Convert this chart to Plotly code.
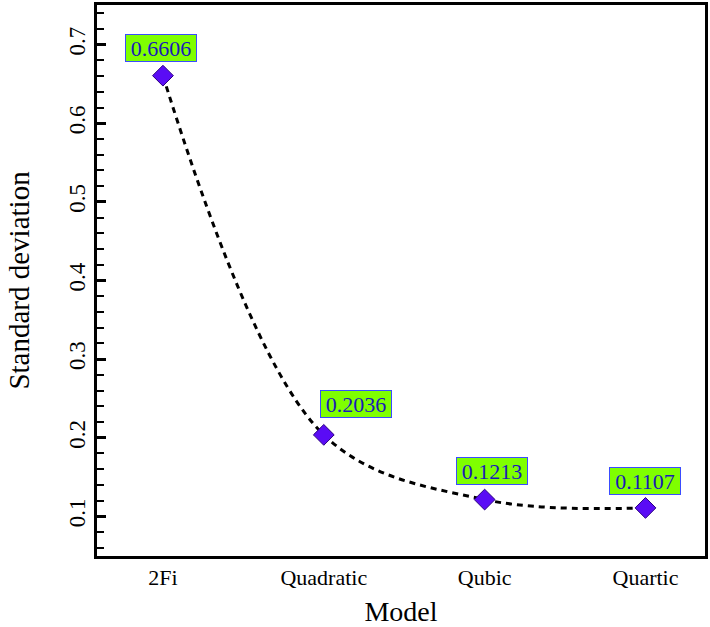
import plotly.graph_objects as go

models = ["2Fi", "Quadratic", "Qubic", "Quartic"]
std_dev = [0.6606, 0.2036, 0.1213, 0.1107]
labels = ["0.6606", "0.2036", "0.1213", "0.1107"]
label_dx = [-2, 32, 7, 0]
label_dy = [28, 31, 29, 27]

xs = list(range(len(models)))
fig = go.Figure()
fig.add_trace(go.Scatter(
    x=xs, y=std_dev, mode="lines",
    line=dict(shape="spline", smoothing=1.0, color="black", width=3, dash="6px,5px"),
    showlegend=False, hoverinfo="skip"))
fig.add_trace(go.Scatter(
    x=xs, y=std_dev, mode="markers",
    marker=dict(symbol="diamond", size=16, color="#5a0cf5",
                line=dict(color="#2a0080", width=1)),
    showlegend=False))

for x, y, t, dx, dy in zip(xs, std_dev, labels, label_dx, label_dy):
    fig.add_annotation(x=x, y=y, text=t, showarrow=False, xshift=dx, yshift=dy,
                       font=dict(family="Liberation Serif", size=22, color="#1a1ab8"),
                       width=68, height=24,
                       bgcolor="#7fff00", bordercolor="#3a4cff", borderwidth=1, borderpad=1)

font = "Liberation Serif"
fig.update_layout(
    width=710, height=627,
    margin=dict(l=97, r=4, t=2, b=65),
    paper_bgcolor="white", plot_bgcolor="white",
    font=dict(family=font, color="black"),
    xaxis=dict(
        range=[-0.41, 3.37], tickmode="array", tickvals=xs, ticktext=models,
        ticks="", showgrid=False, zeroline=False,
        showline=True, linecolor="black", linewidth=3, mirror=True,
        tickfont=dict(family=font, size=22),
        title=dict(text="Model", font=dict(family=font, size=28), standoff=15)),
    yaxis=dict(
        range=[0.0495, 0.7505], tickvals=[0.1, 0.2, 0.3, 0.4, 0.5, 0.6, 0.7],
        ticktext=["0.1", "0.2", "0.3", "0.4", "0.5", "0.6", "0.7"],
        tickangle=-90, ticks="inside", ticklen=9, tickwidth=3, tickcolor="black",
        minor=dict(dtick=0.02, tick0=0, ticks="inside", ticklen=7, tickwidth=1.5, tickcolor="black"),
        showgrid=False, zeroline=False,
        showline=True, linecolor="black", linewidth=3, mirror=True,
        tickfont=dict(family=font, size=23),
        title=dict(text="Standard deviation", font=dict(family=font, size=29), standoff=27)),
)
fig.write_html("out.html")
